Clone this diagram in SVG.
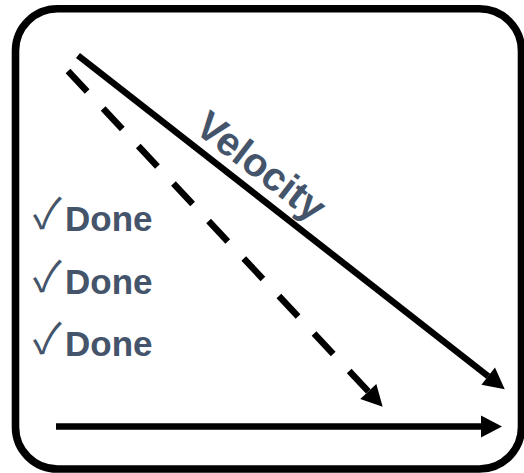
<svg xmlns="http://www.w3.org/2000/svg" width="524" height="473" viewBox="0 0 524 473">
  <style>
    .frame { fill: #ffffff; stroke: #000000; stroke-width: 7.6; }
    .conn { stroke: #000000; stroke-width: 6.5; fill: none; stroke-linecap: butt; }
    .dash { stroke-dasharray: 28 23.4; }
    .lbl { fill: #44546A; font-family: "Liberation Sans", Arial, sans-serif; font-weight: bold; }
    .chk { fill: #44546A; font-family: "Noto Sans CJK JP", "DejaVu Sans", sans-serif; font-size: 42px; }
  </style>
  <defs>
    <marker id="head" markerUnits="userSpaceOnUse" markerWidth="30" markerHeight="30" refX="0" refY="0" orient="auto" overflow="visible">
      <path d="M0,-11 L21,0 L0,11 z" fill="#000000"/>
    </marker>
  </defs>
  <rect id="frame" class="frame" x="15.5" y="8.8" width="506" height="460.2" rx="42" ry="42"/>
  <g id="connectors">
    <line class="conn" x1="78" y1="55.5" x2="488.2" y2="376.2" marker-end="url(#head)"/>
    <line class="conn dash" x1="68" y1="71" x2="368.3" y2="391.4" marker-end="url(#head)"/>
    <line class="conn" x1="56" y1="426.5" x2="481" y2="426.5" marker-end="url(#head)"/>
  </g>
  <g id="velocity">
    <text class="lbl" font-size="40" x="193" y="131" transform="rotate(37.5 193 131)">Velocity</text>
  </g>
  <g id="done1">
    <text class="chk" x="33" y="228">✓</text>
    <text class="lbl" font-size="35" x="65" y="231">Done</text>
  </g>
  <g id="done2">
    <text class="chk" x="33" y="291">✓</text>
    <text class="lbl" font-size="35" x="65" y="294">Done</text>
  </g>
  <g id="done3">
    <text class="chk" x="33" y="353">✓</text>
    <text class="lbl" font-size="35" x="65" y="356">Done</text>
  </g>
</svg>
